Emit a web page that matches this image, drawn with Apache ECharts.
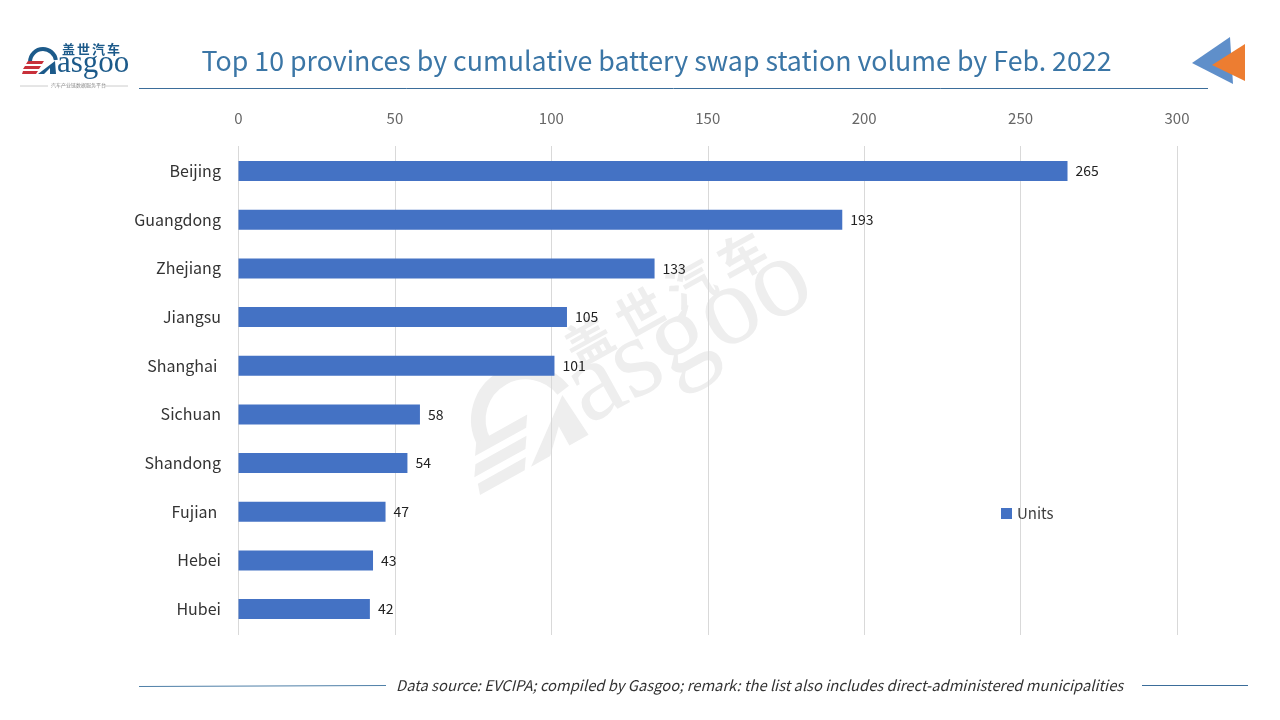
<!DOCTYPE html>
<html><head><meta charset="utf-8">
<style>html,body{margin:0;background:#fff}#c{width:1280px;height:720px}</style>
<script src="https://cdn.jsdelivr.net/npm/echarts@6/dist/echarts.min.js"></script>
</head><body><div id="c"></div>
<script>
const categories = ["Beijing","Guangdong","Zhejiang","Jiangsu","Shanghai ","Sichuan","Shandong","Fujian ","Hebei","Hubei"];
const units = [265,193,133,105,101,58,54,47,43,42];
const titleText = "Top 10 provinces by cumulative battery swap station volume by Feb. 2022";
const sourceText = "Data source: EVCIPA; compiled by Gasgoo; remark: the list also includes direct-administered municipalities";
const logoChars = ["盖","世","汽","车"];
const F = '"Noto Sans CJK SC","Noto Sans",sans-serif';
const chart = echarts.init(document.getElementById('c'), null, {renderer:'canvas'});
const poly = (pts, fill, z) => ({type:'polygon', shape:{points:pts}, style:{fill}, z, silent:true});
// Logo drawn around its lower-left corner, reused at small size and as the watermark
function logo(blue, red, z, pitch, charY) {
  return [
    {type:'arc', shape:{cx:21,cy:-12,r:13,startAngle:Math.PI,endAngle:Math.PI*1.95,clockwise:true}, style:{stroke:blue,fill:'none',lineWidth:4}, z, silent:true},
    poly([[16,0],[33,-13],[34,0],[28,0],[28,-6],[22,0]], blue, z),
    poly([[6,-13],[22,-13],[20,-10],[4,-10]], red, z),
    poly([[3,-8],[19,-8],[17,-5],[1,-5]], red, z),
    poly([[1,-3],[16,-3],[14,0],[0,0]], red, z),
    {type:'text', x:35, y:-26, style:{text:'asgoo', fontFamily:'"Liberation Serif",serif', fontSize:31, fill:blue}, z, silent:true}
  ].concat(logoChars.map((c,i)=>({type:'text', x:40+i*pitch, y:charY, style:{text:c, fontFamily:'"Noto Sans CJK SC"', fontWeight:'bold', fontSize:13, fill:blue}, z, silent:true})));
}
chart.setOption({
  animation:false,
  backgroundColor:'#fff',
  title:{text:titleText, left:651.5, top:42, textAlign:'center',
    textStyle:{fontFamily:F, fontSize:26.75, fontWeight:'normal', color:'#3b76a6'}},
  legend:{data:['Units'], left:996, top:501, itemWidth:11, itemHeight:11, itemGap:6, icon:'rect',
    textStyle:{fontFamily:F, fontSize:15, color:'#404040'}},
  grid:[
    {left:238.5, top:146, width:938.5, height:489},
    {left:238.5, top:146.7, width:938.5, height:486.7}
  ],
  xAxis:[
    {gridIndex:0, type:'value', position:'top', min:0, max:300, interval:50,
      axisLine:{show:false}, axisTick:{show:false},
      axisLabel:{fontFamily:F, fontSize:15, color:'#666', margin:20},
      splitLine:{show:true, lineStyle:{color:'#d9d9d9', width:1}}},
    {gridIndex:1, type:'value', position:'top', min:0, max:300, interval:50, show:false}
  ],
  yAxis:[
    {gridIndex:0, type:'category', inverse:true, data:categories, show:false},
    {gridIndex:1, type:'category', inverse:true, data:categories,
      axisLine:{show:false}, axisTick:{show:false},
      axisLabel:{fontFamily:F, fontSize:16, color:'#333', margin:17.6, padding:[0,0,2,0]}}
  ],
  series:[{name:'Units', type:'bar', xAxisIndex:1, yAxisIndex:1, data:units, barWidth:20, itemStyle:{color:'#4472c4'},
    label:{show:true, position:'right', distance:8, fontFamily:F, fontSize:14, color:'#222'}}],
  graphic:[
    {type:'line', shape:{x1:139,y1:88.5,x2:1208,y2:88.5}, style:{stroke:'#3b6d9a',lineWidth:1}},
    {type:'line', shape:{x1:139,y1:686.5,x2:386,y2:685.5}, style:{stroke:'#4f80a8',lineWidth:1}},
    {type:'line', shape:{x1:1142,y1:685.5,x2:1248,y2:685.5}, style:{stroke:'#3b6d9a',lineWidth:1}},
    poly([[1192,63],[1230,37],[1233,84]],'#5f8fca',3),
    poly([[1212,65],[1245,44],[1245,81]],'#ed7d31',4),
    {type:'group', x:22, y:74, silent:true, children:logo('#1c5a8a','#c8303a',3,15,-31)},
    {type:'text', x:51, y:83, style:{text:'汽车产业链数据服务平台', fontFamily:'"Noto Sans CJK SC"', fontSize:5, fill:'#888'}, silent:true},
    {type:'line', shape:{x1:20,y1:86,x2:48,y2:86}, style:{stroke:'#ccc',lineWidth:1}},
    {type:'line', shape:{x1:104,y1:86,x2:128,y2:86}, style:{stroke:'#ccc',lineWidth:1}},
    {type:'group', x:480, y:495, rotation:Math.PI*29/180, scaleX:3.65, scaleY:3.65, silent:true, children:logo('#eeeeee','#eeeeee',-1,16,-29)},
    {type:'text', x:396, y:678, style:{text:sourceText, fontFamily:F, fontStyle:'italic', fontSize:14.77, fill:'#333'}, silent:true}
  ]
});
</script></body></html>
